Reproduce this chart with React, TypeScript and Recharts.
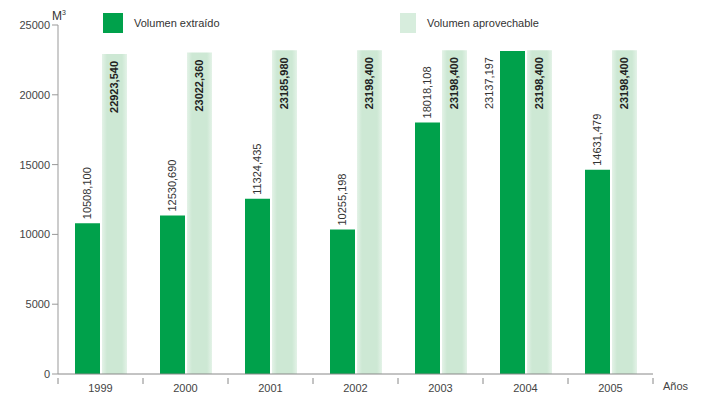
import React from 'react';
import { BarChart, Bar, XAxis, YAxis, LabelList } from 'recharts';

const years = ['1999', '2000', '2001', '2002', '2003', '2004', '2005'];
// extracted volume, bar heights as drawn
const extraido = [10800, 11350, 12550, 10350, 18018, 23137, 14631];
const extraidoLabels = ['10508,100', '12530,690', '11324,435', '10255,198', '18018,108', '23137,197', '14631,479'];
const aprovechable = [22923.54, 23022.36, 23185.98, 23198.4, 23198.4, 23198.4, 23198.4];
const aprovechableLabels = ['22923,540', '23022,360', '23185,980', '23198,400', '23198,400', '23198,400', '23198,400'];
const yTicks = [0, 5000, 10000, 15000, 20000, 25000];

const data = years.map((y, i) => ({
  year: y,
  extraido: extraido[i],
  aprovechable: aprovechable[i],
  extLabel: extraidoLabels[i],
  aprLabel: aprovechableLabels[i],
}));

const FONT = '"Liberation Sans", Arial, sans-serif';
const DARK = '#00a14b';
const LIGHT = '#cde8d4';

const ExtLabel = (props: any) => {
  const { x, y, width, value } = props;
  const high = props.index === 5;
  const cx = high ? x - 11 : x + width / 2;
  const cy = high ? y + 6 : y - 4;
  return (
    <text
      x={cx}
      y={cy}
      transform={`rotate(-90 ${cx} ${cy})`}
      textAnchor={high ? 'end' : 'start'}
      dominantBaseline="central"
      fontSize={11}
      fontFamily={FONT}
      fill="#333"
    >
      {value}
    </text>
  );
};

const AprLabel = (props: any) => {
  const { x, y, width, value } = props;
  const cx = x + width / 2;
  const cy = y + 7;
  return (
    <text
      x={cx}
      y={cy}
      transform={`rotate(-90 ${cx} ${cy})`}
      textAnchor="end"
      dominantBaseline="central"
      fontSize={11}
      fontWeight="bold"
      fontFamily={FONT}
      fill="#222"
    >
      {value}
    </text>
  );
};

const YearTick = (props: any) => {
  const { x, y, payload, index } = props;
  const half = payload.offset || 42.5;
  return (
    <g>
      <line x1={x - half} y1={y - 4} x2={x - half} y2={y + 2} stroke="#888" />
      {index === years.length - 1 && (
        <line x1={x + half} y1={y - 4} x2={x + half} y2={y + 2} stroke="#888" />
      )}
      <text x={x} y={y + 10} textAnchor="middle" fontSize={11} fontFamily={FONT} fill="#444">
        {payload.value}
      </text>
    </g>
  );
};

export default function App() {
  return (
    <div style={{ position: 'relative', width: 697, height: 392, fontFamily: FONT }}>
      <BarChart
        width={697}
        height={392}
        data={data}
        margin={{ top: 17, right: 52, bottom: 6, left: 0 }}
        barSize={25}
        barGap={2}
      >
        <defs>
          <linearGradient id="lightFade" x1="0" y1="0" x2="1" y2="0">
            <stop offset="0%" stopColor={LIGHT} stopOpacity={0.55} />
            <stop offset="20%" stopColor={LIGHT} stopOpacity={1} />
            <stop offset="80%" stopColor={LIGHT} stopOpacity={1} />
            <stop offset="100%" stopColor={LIGHT} stopOpacity={0.55} />
          </linearGradient>
        </defs>
        <XAxis
          dataKey="year"
          height={20}
          stroke="#888"
          tickLine={false}
          tick={<YearTick />}
          interval={0}
        />
        <YAxis
          width={50}
          domain={[0, 25000]}
          ticks={yTicks}
          stroke="#999"
          tickSize={6}
          tick={{ fontSize: 11, fill: '#444', fontFamily: FONT }}
        />
        <Bar dataKey="extraido" fill={DARK} isAnimationActive={false}>
          <LabelList dataKey="extLabel" content={<ExtLabel />} />
        </Bar>
        <Bar dataKey="aprovechable" fill="url(#lightFade)" isAnimationActive={false}>
          <LabelList dataKey="aprLabel" content={<AprLabel />} />
        </Bar>
      </BarChart>
      <div style={{ position: 'absolute', left: 44, top: 1, fontSize: 12, color: '#333' }}>
        M<sup style={{ fontSize: 7 }}>3</sup>
      </div>
      <div style={{ position: 'absolute', left: 95, top: 5, display: 'flex', alignItems: 'center' }}>
        <div style={{ width: 20, height: 20, background: DARK }} />
        <span style={{ marginLeft: 11, fontSize: 11, color: '#333' }}>Volumen extraído</span>
      </div>
      <div style={{ position: 'absolute', left: 392, top: 5, display: 'flex', alignItems: 'center' }}>
        <div style={{ width: 16, height: 20, background: LIGHT, opacity: 0.8 }} />
        <span style={{ marginLeft: 11, fontSize: 11, color: '#333' }}>Volumen aprovechable</span>
      </div>
      <div style={{ position: 'absolute', left: 655, top: 372, fontSize: 11, color: '#444' }}>Años</div>
    </div>
  );
}
